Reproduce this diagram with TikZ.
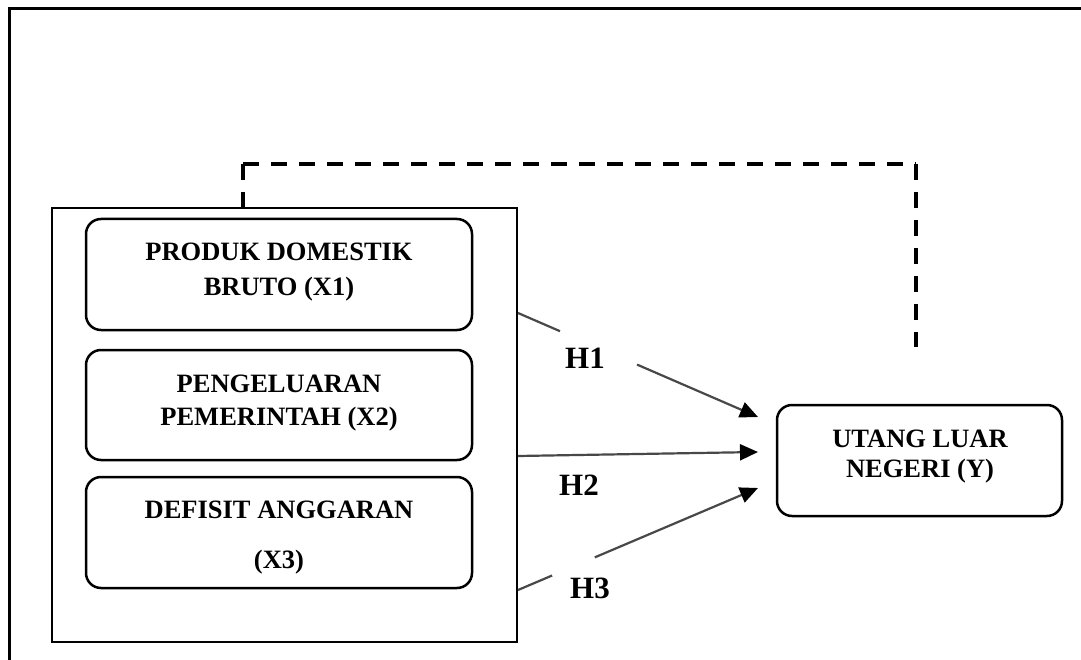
\documentclass[tikz,border=0pt]{standalone}
\usepackage{fontspec}
\setmainfont{Liberation Serif}
\usetikzlibrary{arrows.meta,calc}
\definecolor{linkgray}{RGB}{72,72,72}
\begin{document}
\begin{tikzpicture}[x=1pt,y=-1pt,
  frame/.style={line width=3pt},
  grpbox/.style={draw, line width=1.5pt, inner sep=0pt, outer sep=0pt},
  varbox/.style={draw, line width=2.5pt, rounded corners=15pt, inner sep=0pt, outer sep=0pt},
  vtext/.style={font=\fontsize{26.5}{30}\selectfont\bfseries, anchor=base, inner sep=0pt},
  hlab/.style={font=\fontsize{31}{34}\selectfont\bfseries, anchor=base west, inner sep=0pt},
  link/.style={draw=linkgray, line width=2.2pt},
  tip/.style={-{Triangle[length=18pt,width=16pt,color=black]}},
  dashln/.style={line width=3.5pt, dash pattern=on 16pt off 12pt}
]
\useasboundingbox (0,0) rectangle (1081,660);
% outer frame (top and left edges visible)
\draw[frame] (9.5,672) -- (9.5,8.7) -- (1095,8.7);

% group box and variable boxes
\node[grpbox, minimum width=465pt, minimum height=434pt] (grp) at (284.5,424.8) {};
\node[varbox, minimum width=386pt, minimum height=111pt] (x1) at (279,274.5) {};
\node[varbox, minimum width=386pt, minimum height=110pt] (x2) at (279,405) {};
\node[varbox, minimum width=386pt, minimum height=111pt] (x3) at (279,532.5) {};
\node[varbox, minimum width=285pt, minimum height=111pt] (y) at (919.5,460.5) {};

% texts
\node[vtext] (x1a) at (279,261) {PRODUK DOMESTIK};
\node[vtext] (x1b) at (279,295) {BRUTO (X1)};
\node[vtext] (x2a) at (279,392) {PENGELUARAN};
\node[vtext] (x2b) at (279,425) {PEMERINTAH (X2)};
\node[vtext] (x3a) at (279,518) {DEFISIT ANGGARAN};
\node[vtext] (x3b) at (279,568) {(X3)};
\node[vtext] (ya) at (920,447) {UTANG LUAR};
\node[vtext] (yb) at (920,477) {NEGERI (Y)};

% connector end points
\coordinate (s1) at (518,313);
\coordinate (t1) at (758,417);
\coordinate (s2) at (518,456);
\coordinate (t2) at (758,452);
\coordinate (s3) at (518,590);
\coordinate (t3) at (758,488);

% arrows (with gaps where the labels sit)
\draw[link] (s1) -- ($(s1)!0.175!(t1)$);
\draw[link,tip] ($(s1)!0.496!(t1)$) -- (t1);
\draw[link,tip] (s2) -- (t2);
\draw[link] (s3) -- ($(s3)!0.142!(t3)$);
\draw[link,tip] ($(s3)!0.32!(t3)$) -- (t3);

% labels
\node[hlab] (h1) at (565,368) {H1};
\node[hlab] (h2) at (559,495) {H2};
\node[hlab] (h3) at (570,598) {H3};

% dashed connector
\coordinate (dl) at (243,164);
\coordinate (dr) at (916,164);
\coordinate (dend) at (916,347);
\draw[dashln] (dl) -- (dl |- grp.north);
\draw[dashln] (dl) -- (dr);
\draw[dashln] (dr) -- (dend);
\end{tikzpicture}
\end{document}
